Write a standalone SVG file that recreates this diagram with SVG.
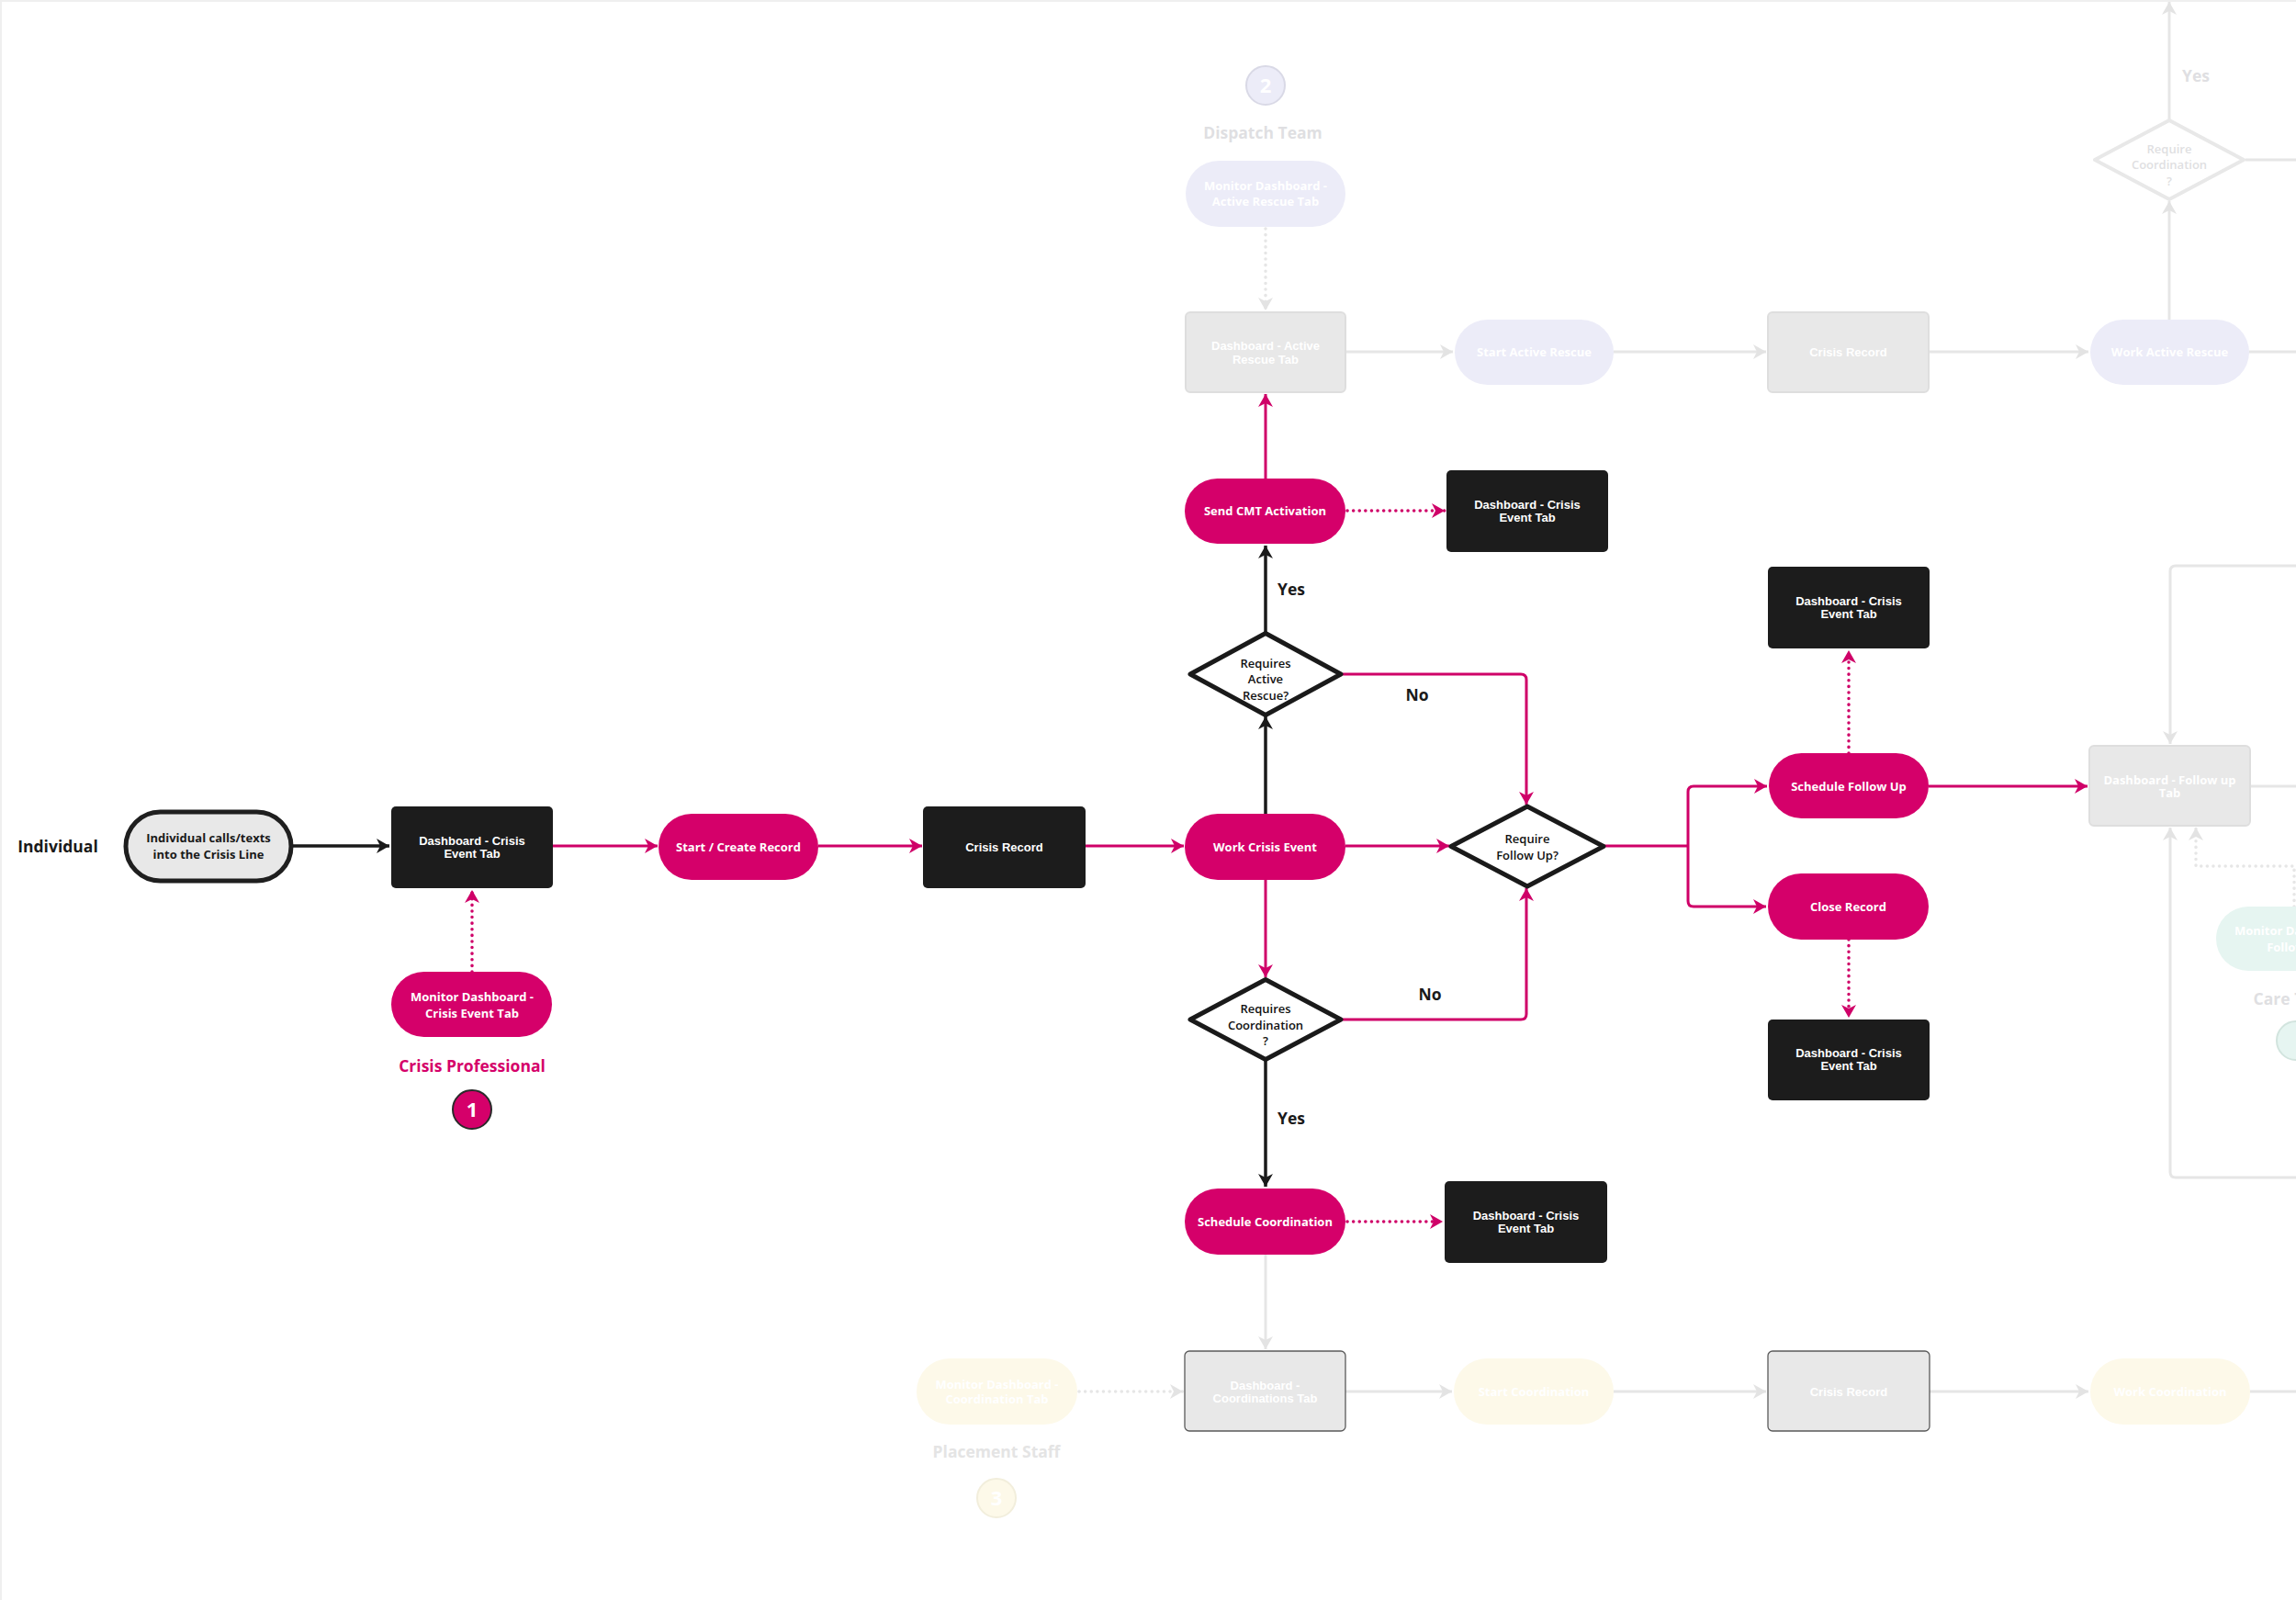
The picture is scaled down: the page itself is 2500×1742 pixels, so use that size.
<svg xmlns="http://www.w3.org/2000/svg" width="2500" height="1742" viewBox="0 0 2500 1742">
<style>
.op{font-family:"Open Sans","Noto Sans",sans-serif;font-weight:700;text-anchor:middle}
.ar{font-family:"Liberation Sans",Arial,sans-serif;font-weight:700;text-anchor:middle}
.w{fill:#ffffff;font-size:13px}
.lbl{font-size:17.5px}
.pill{fill:#d5006a}
.box{fill:#1c1c1c}
.gbox{fill:#e8e8e8;stroke:#dedede;stroke-width:2}
.gbox2{fill:#e8e8e8;stroke:#5a5a5a;stroke-width:1.3}
.lav{fill:#ececf8}
.cream{fill:#fdf9e9}
.mint{fill:#e6f5f1}
.dia{fill:#ffffff;stroke:#1a1a1a;stroke-width:5;stroke-linejoin:round}
.gdia{fill:#ffffff;stroke:#e8e8e8;stroke-width:4;stroke-linejoin:round}
.dt{font-family:"Open Sans","Noto Sans",sans-serif;font-weight:600;font-size:13px;text-anchor:middle;fill:#111111}
.gt{fill:#dfdfe2}
.m{fill:none;stroke:#cf0068;stroke-width:3}
.k{fill:none;stroke:#1a1a1a;stroke-width:3.5}
.g{fill:none;stroke:#e6e6e6;stroke-width:3}
.dot{stroke-dasharray:0.1 6.5;stroke-linecap:round;stroke-width:3.5}
</style>
<defs>
<marker id="am" markerUnits="userSpaceOnUse" markerWidth="16" markerHeight="18" refX="15" refY="9" orient="auto"><path d="M1,1 L15,9 L1,17 L5,9 z" fill="#cf0068"/></marker>
<marker id="ak" markerUnits="userSpaceOnUse" markerWidth="16" markerHeight="18" refX="15" refY="9" orient="auto"><path d="M1,1 L15,9 L1,17 L5,9 z" fill="#1a1a1a"/></marker>
<marker id="ag" markerUnits="userSpaceOnUse" markerWidth="16" markerHeight="18" refX="15" refY="9" orient="auto"><path d="M1,1 L15,9 L1,17 L5,9 z" fill="#e3e3e3"/></marker>
</defs>
<rect x="0" y="0" width="2500" height="1742" fill="#ffffff"/>
<path d="M1,1742 V1 H2500" fill="none" stroke="#efefef" stroke-width="2"/>

<g id="connectors">
<!-- black -->
<path class="k" d="M317,921 H424" marker-end="url(#ak)"/>
<path class="k" d="M1378,886 V780" marker-end="url(#ak)"/>
<path class="k" d="M1378,689 V594" marker-end="url(#ak)"/>
<path class="k" d="M1378,1153 V1292" marker-end="url(#ak)"/>
<!-- magenta solid -->
<path class="m" d="M602,921 H716" marker-end="url(#am)"/>
<path class="m" d="M891,921 H1004" marker-end="url(#am)"/>
<path class="m" d="M1182,921 H1289" marker-end="url(#am)"/>
<path class="m" d="M1465,921 H1578" marker-end="url(#am)"/>
<path class="m" d="M1378,521 V429" marker-end="url(#am)"/>
<path class="m" d="M1462,734 H1656 Q1662,734 1662,740 V876" marker-end="url(#am)"/>
<path class="m" d="M1378,958 V1064" marker-end="url(#am)"/>
<path class="m" d="M1462,1110 H1656 Q1662,1110 1662,1104 V967" marker-end="url(#am)"/>
<path class="m" d="M1747,921 H1838"/>
<path class="m" d="M1838,921 V862 Q1838,856 1844,856 H1924" marker-end="url(#am)"/>
<path class="m" d="M1838,921 V981 Q1838,987 1844,987 H1923" marker-end="url(#am)"/>
<path class="m" d="M2100,856 H2273" marker-end="url(#am)"/>
<!-- magenta dotted -->
<path class="m dot" d="M514,1058 V969" marker-end="url(#am)"/>
<path class="m dot" d="M1467,556 H1573" marker-end="url(#am)"/>
<path class="m dot" d="M1467,1330 H1571" marker-end="url(#am)"/>
<path class="m dot" d="M2013,820 V708" marker-end="url(#am)"/>
<path class="m dot" d="M2013,1023 V1108" marker-end="url(#am)"/>
<!-- grey solid -->
<path class="g" d="M1465,383 H1582" marker-end="url(#ag)"/>
<path class="g" d="M1757,383 H1923" marker-end="url(#ag)"/>
<path class="g" d="M2100,383 H2274" marker-end="url(#ag)"/>
<path class="g" d="M2449,383 H2500"/>
<path class="g" d="M2362,348 V219" marker-end="url(#ag)"/>
<path class="g" d="M2362,131 V2" marker-end="url(#ag)"/>
<path class="g" d="M2445,174 H2500"/>
<path class="g" d="M2500,616 H2369 Q2363,616 2363,622 V810" marker-end="url(#ag)"/>
<path class="g" d="M2450,856 H2500"/>
<path class="g" d="M2500,1282 H2369 Q2363,1282 2363,1276 V901" marker-end="url(#ag)"/>
<path class="g" d="M1378,1366 V1469" marker-end="url(#ag)"/>
<path class="g" d="M1465,1515 H1581" marker-end="url(#ag)"/>
<path class="g" d="M1757,1515 H1923" marker-end="url(#ag)"/>
<path class="g" d="M2101,1515 H2274" marker-end="url(#ag)"/>
<path class="g" d="M2450,1515 H2500"/>
<!-- grey dotted -->
<path class="g dot" d="M1378,249 V338" marker-end="url(#ag)"/>
<path class="g dot" d="M1175,1515 H1288" marker-end="url(#ag)"/>
<path class="g dot" d="M2498,987 V943 H2391 V901" marker-end="url(#ag)"/>
</g>

<g id="lane-individual">
<text class="op lbl" x="63" y="928" fill="#1a1a1a">Individual</text>
</g>
<g id="n-start">
<rect x="137" y="884" width="180" height="75" rx="37.5" fill="#e8e8e8" stroke="#1f1f1f" stroke-width="5"/>
<text class="op" font-size="13" fill="#1a1a1a"><tspan x="227" y="917">Individual calls/texts</tspan><tspan x="227" y="935">into the Crisis Line</tspan></text>
</g>
<g id="n-dash1">
<rect class="box" x="426" y="878" width="176" height="89" rx="5"/>
<text class="ar w"><tspan x="514" y="919.5">Dashboard - Crisis</tspan><tspan x="514" y="933.5">Event Tab</tspan></text>
</g>
<g id="n-monitor-crisis">
<rect class="pill" x="426" y="1058" width="175" height="71" rx="35.5"/>
<text class="op w"><tspan x="514" y="1089.5">Monitor Dashboard -</tspan><tspan x="514" y="1107.5">Crisis Event Tab</tspan></text>
</g>
<g id="lane-crisis">
<text class="op lbl" x="514" y="1167" fill="#d5006a">Crisis Professional</text>
<circle cx="514" cy="1208" r="21" fill="#d5006a" stroke="#2a2a2a" stroke-width="2"/>
<text class="op" x="514" y="1216" font-size="22" fill="#ffffff">1</text>
</g>
<g id="n-create">
<rect class="pill" x="717" y="886" width="174" height="72" rx="36"/>
<text class="op w" x="804" y="926.5">Start / Create Record</text>
</g>
<g id="n-record">
<rect class="box" x="1005" y="878" width="177" height="89" rx="5"/>
<text class="ar w" x="1093.5" y="926.5">Crisis Record</text>
</g>
<g id="n-work">
<rect class="pill" x="1290" y="886" width="175" height="72" rx="36"/>
<text class="op w" x="1377.5" y="926.5">Work Crisis Event</text>
</g>
<g id="n-rescue-q">
<path class="dia" d="M1378,689.5 L1460,734 L1378,778.5 L1296,734 Z"/>
<text class="dt"><tspan x="1378" y="726.5">Requires</tspan><tspan x="1378" y="744">Active</tspan><tspan x="1378" y="761.5">Rescue?</tspan></text>
</g>
<g id="l-yes1"><text class="op lbl" x="1406" y="648" fill="#1a1a1a">Yes</text></g>
<g id="l-no1"><text class="op lbl" x="1543" y="763" fill="#1a1a1a">No</text></g>
<g id="n-cmt">
<rect class="pill" x="1290" y="521" width="175" height="71" rx="35.5"/>
<text class="op w" x="1377.5" y="561">Send CMT Activation</text>
</g>
<g id="n-dash-cmt">
<rect class="box" x="1575" y="512" width="176" height="89" rx="5"/>
<text class="ar w"><tspan x="1663" y="553.5">Dashboard - Crisis</tspan><tspan x="1663" y="567.5">Event Tab</tspan></text>
</g>
<g id="n-followup-q">
<path class="dia" d="M1663,878 L1746,921.5 L1663,965 L1580,921.5 Z"/>
<text class="dt"><tspan x="1663" y="917.5">Require</tspan><tspan x="1663" y="935.5">Follow Up?</tspan></text>
</g>
<g id="n-coord-q">
<path class="dia" d="M1378,1066.5 L1460,1110 L1378,1153.5 L1296,1110 Z"/>
<text class="dt"><tspan x="1378" y="1102.5">Requires</tspan><tspan x="1378" y="1120.5">Coordination</tspan><tspan x="1378" y="1137.5">?</tspan></text>
</g>
<g id="l-no2"><text class="op lbl" x="1557" y="1089" fill="#1a1a1a">No</text></g>
<g id="l-yes2"><text class="op lbl" x="1406" y="1224" fill="#1a1a1a">Yes</text></g>
<g id="n-sched-coord">
<rect class="pill" x="1290" y="1294" width="175" height="72" rx="36"/>
<text class="op w" x="1377.5" y="1334.5">Schedule Coordination</text>
</g>
<g id="n-dash-coord">
<rect class="box" x="1573" y="1286" width="177" height="89" rx="5"/>
<text class="ar w"><tspan x="1661.5" y="1327.5">Dashboard - Crisis</tspan><tspan x="1661.5" y="1341.5">Event Tab</tspan></text>
</g>
<g id="n-sched-follow">
<rect class="pill" x="1926" y="820" width="174" height="71" rx="35.5"/>
<text class="op w" x="2013" y="860.5">Schedule Follow Up</text>
</g>
<g id="n-dash-follow">
<rect class="box" x="1925" y="617" width="176" height="89" rx="5"/>
<text class="ar w"><tspan x="2013" y="659">Dashboard - Crisis</tspan><tspan x="2013" y="673">Event Tab</tspan></text>
</g>
<g id="n-close">
<rect class="pill" x="1925" y="951" width="175" height="72" rx="36"/>
<text class="op w" x="2012.5" y="991.5">Close Record</text>
</g>
<g id="n-dash-close">
<rect class="box" x="1925" y="1110" width="176" height="88" rx="5"/>
<text class="ar w"><tspan x="2013" y="1151">Dashboard - Crisis</tspan><tspan x="2013" y="1165">Event Tab</tspan></text>
</g>

<!-- faded: dispatch team -->
<g id="lane-dispatch">
<circle cx="1378" cy="93" r="21" fill="#ececf8" stroke="#d9d9e6" stroke-width="2"/>
<text class="op" x="1378" y="101" font-size="22" fill="#ffffff">2</text>
<text class="op lbl gt" x="1375" y="151">Dispatch Team</text>
</g>
<g id="n-monitor-rescue">
<rect class="lav" x="1291" y="175" width="174" height="72" rx="36"/>
<text class="op w"><tspan x="1378" y="206.5">Monitor Dashboard -</tspan><tspan x="1378" y="223.5">Active Rescue Tab</tspan></text>
</g>
<g id="n-dash-rescue">
<rect class="gbox" x="1291" y="340" width="174" height="87" rx="5"/>
<text class="ar w"><tspan x="1378" y="380.5">Dashboard - Active</tspan><tspan x="1378" y="395.5">Rescue Tab</tspan></text>
</g>
<g id="n-start-rescue">
<rect class="lav" x="1584" y="348" width="173" height="71" rx="35.5"/>
<text class="op w" x="1670.5" y="388">Start Active Rescue</text>
</g>
<g id="n-record-rescue">
<rect class="gbox" x="1925" y="340" width="175" height="87" rx="5"/>
<text class="ar w" x="2012.5" y="388">Crisis Record</text>
</g>
<g id="n-work-rescue">
<rect class="lav" x="2276" y="348" width="173" height="71" rx="35.5"/>
<text class="op w" x="2362.5" y="388">Work Active Rescue</text>
</g>
<g id="n-rescue-coord-q">
<path class="gdia" d="M2362,131 L2443,174 L2362,217 L2281,174 Z"/>
<text class="dt gt"><tspan x="2362" y="166.5">Require</tspan><tspan x="2362" y="183.5">Coordination</tspan><tspan x="2362" y="201.5">?</tspan></text>
</g>
<g id="l-yes3"><text class="op lbl gt" x="2391" y="89">Yes</text></g>

<!-- faded: care team -->
<g id="n-dash-followtab">
<rect class="gbox" x="2275" y="812" width="175" height="87" rx="5"/>
<text class="op w" font-size="12.5"><tspan x="2362.5" y="853.5">Dashboard - Follow up</tspan><tspan x="2362.5" y="867.5">Tab</tspan></text>
</g>
<g id="n-monitor-follow">
<rect class="mint" x="2413" y="987" width="175" height="70" rx="35"/>
<text class="op w"><tspan x="2500" y="1017.5">Monitor Dashboard -</tspan><tspan x="2500" y="1035.5">Follow Up</tspan></text>
</g>
<g id="lane-care">
<text class="op lbl gt" x="2500" y="1094">Care Team</text>
<circle cx="2500" cy="1133" r="21" fill="#e6f5f1" stroke="#d2e4de" stroke-width="2"/>
</g>

<!-- faded: placement staff -->
<g id="n-monitor-coord">
<rect class="cream" x="998" y="1479" width="175" height="72" rx="36"/>
<text class="op w"><tspan x="1085.5" y="1511.5">Monitor Dashboard -</tspan><tspan x="1085.5" y="1527.5">Coordination Tab</tspan></text>
</g>
<g id="lane-placement">
<text class="op lbl" x="1085" y="1587" fill="#e4e4e4">Placement Staff</text>
<circle cx="1085" cy="1631" r="21" fill="#fdf9e9" stroke="#f2eedc" stroke-width="2"/>
<text class="op" x="1085" y="1639" font-size="22" fill="#ffffff">3</text>
</g>
<g id="n-dash-coordtab">
<rect class="gbox2" x="1290" y="1471" width="175" height="87" rx="5"/>
<text class="ar w"><tspan x="1377.5" y="1512.5">Dashboard -</tspan><tspan x="1377.5" y="1526.5">Coordinations Tab</tspan></text>
</g>
<g id="n-start-coord">
<rect class="cream" x="1583" y="1479" width="174" height="72" rx="36"/>
<text class="op w" x="1670" y="1519.5">Start Coordination</text>
</g>
<g id="n-record-coord">
<rect class="gbox2" x="1925" y="1471" width="176" height="87" rx="5"/>
<text class="ar w" x="2013" y="1519.5">Crisis Record</text>
</g>
<g id="n-work-coord">
<rect class="cream" x="2276" y="1479" width="174" height="72" rx="36"/>
<text class="op w" x="2363" y="1519.5">Work Coordination</text>
</g>
</svg>
